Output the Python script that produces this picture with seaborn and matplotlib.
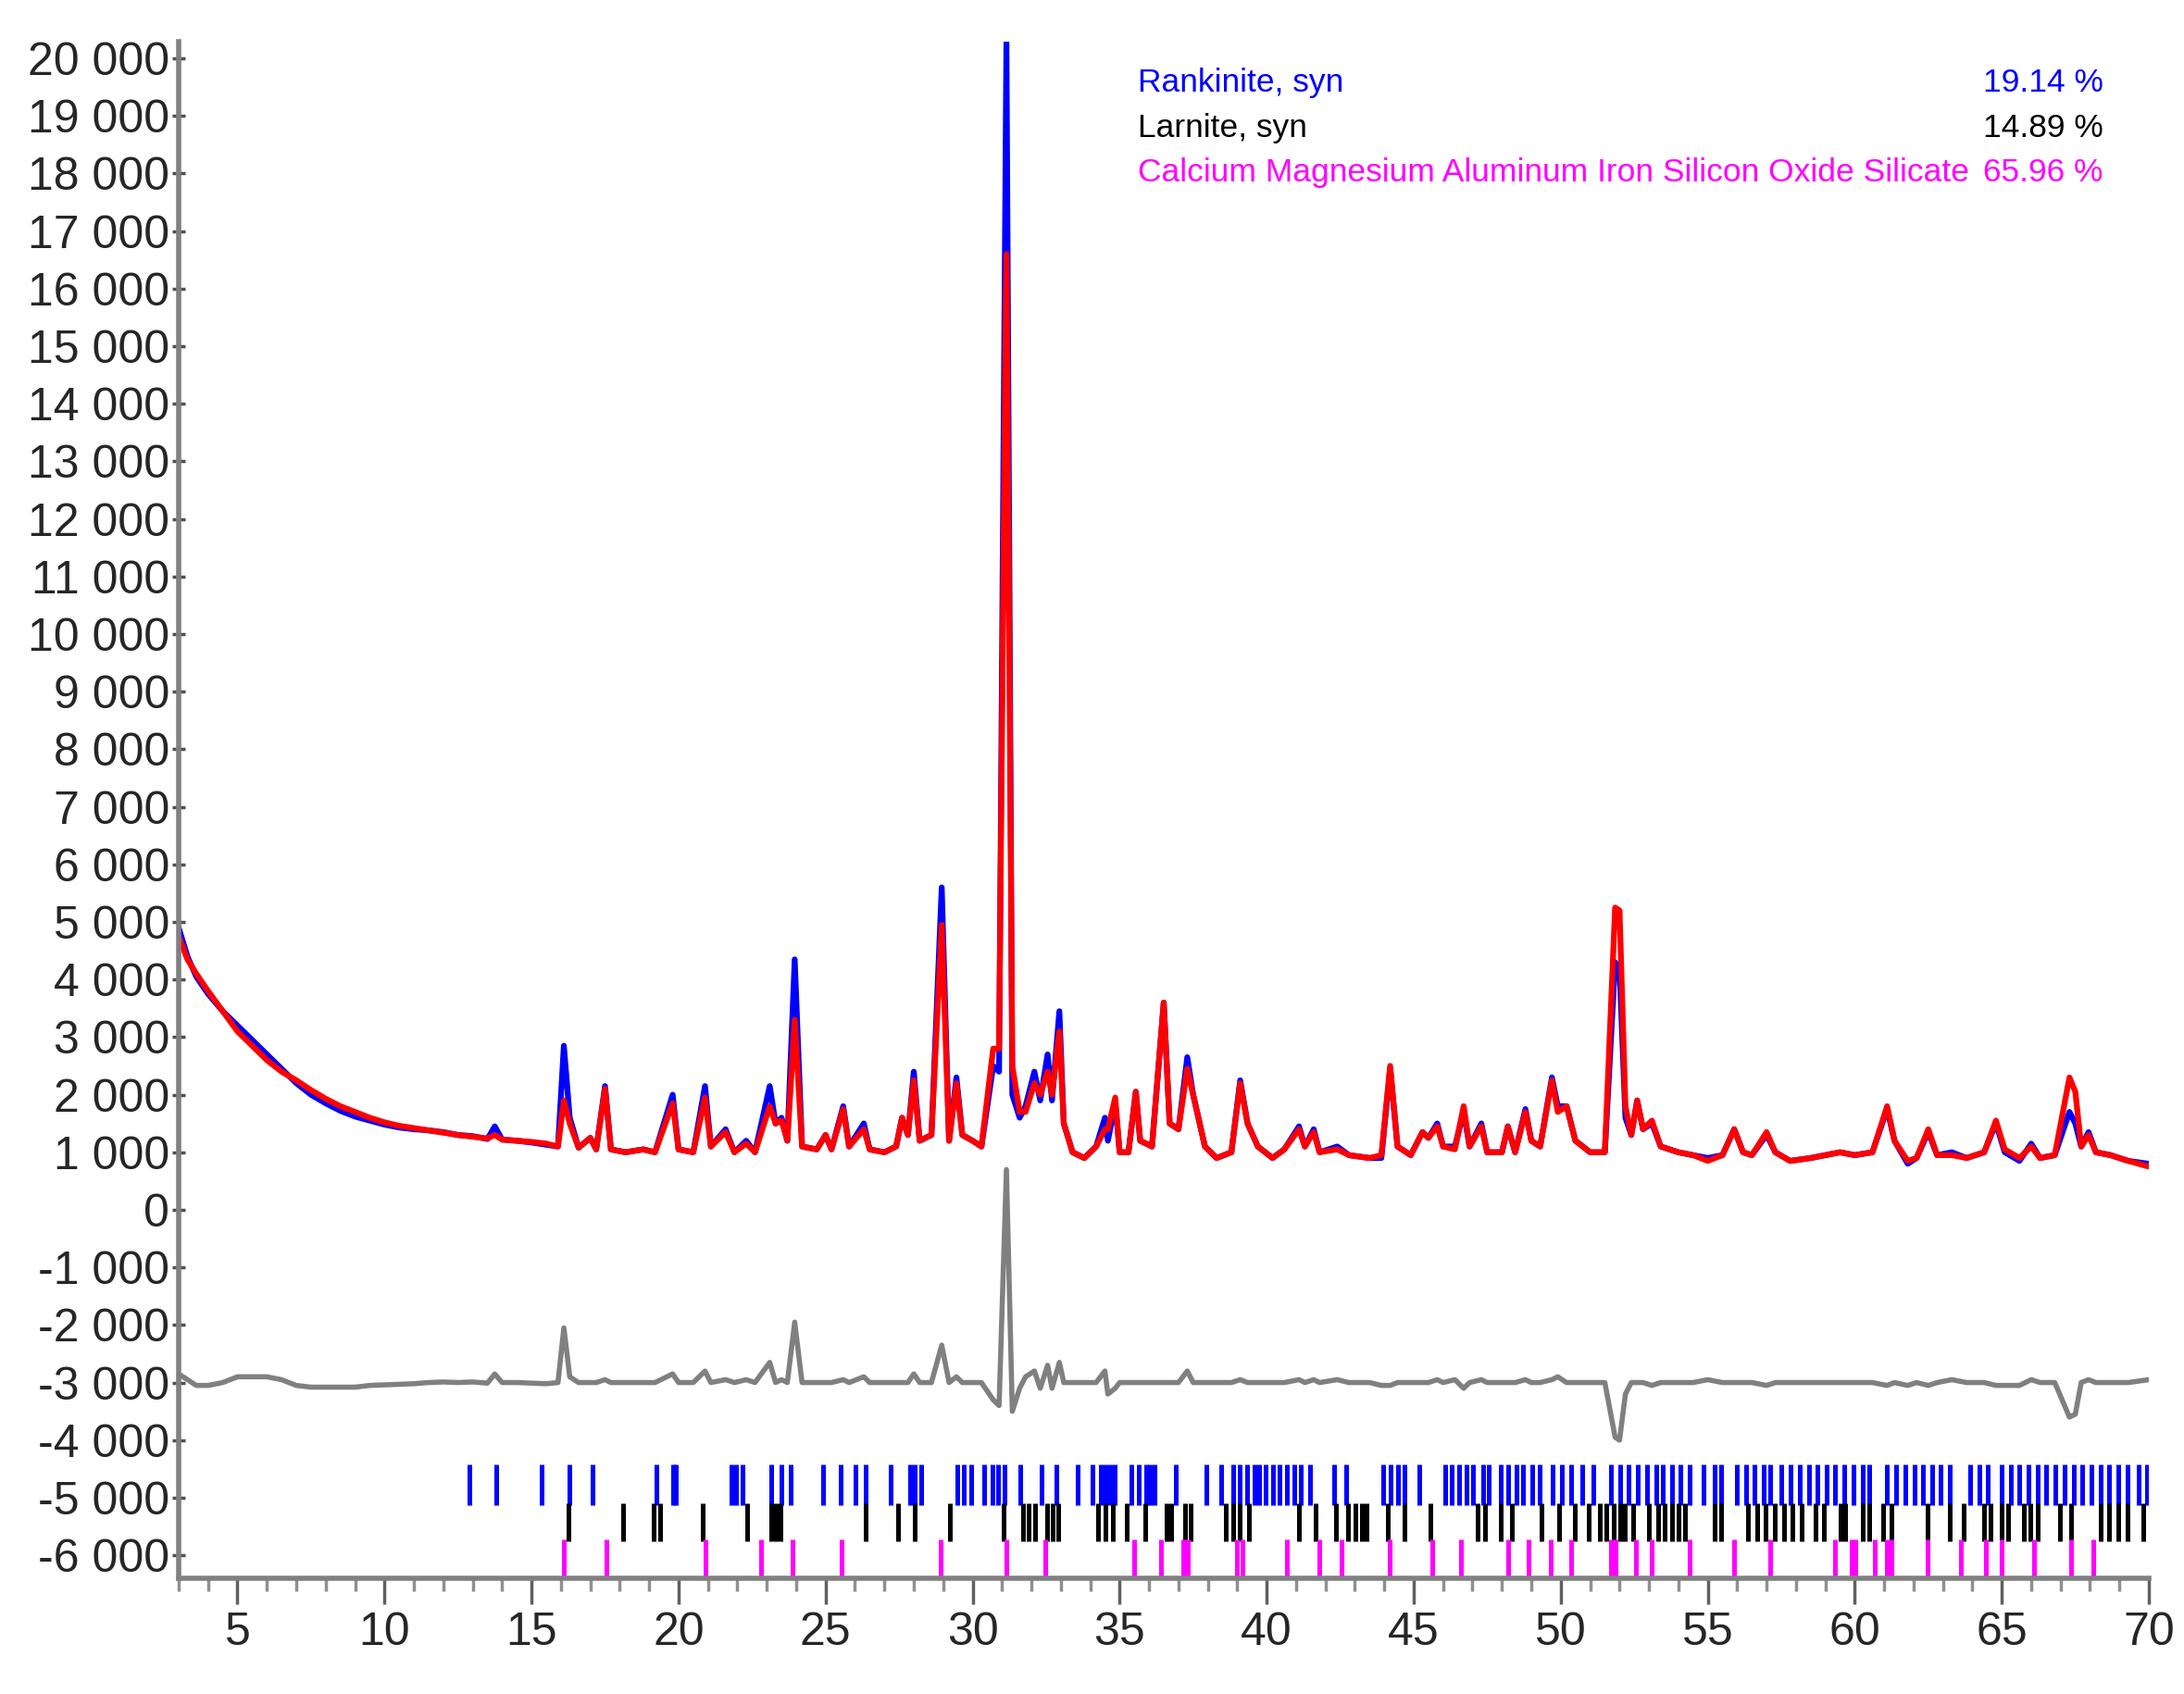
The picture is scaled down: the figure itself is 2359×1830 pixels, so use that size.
import numpy as np
import pandas as pd
import matplotlib
matplotlib.use('Agg')
import matplotlib.pyplot as plt
from matplotlib.ticker import MultipleLocator, FuncFormatter
import seaborn as sns

two_theta = [3.0, 3.3, 3.6, 4.0, 4.5, 5.0, 5.5, 6.0, 6.5, 7.0, 7.5, 8.0, 8.5, 9.0, 9.5,
             10.0, 10.5, 11.0, 11.5, 12.0, 12.5, 13.0, 13.5, 13.75, 14.0, 14.5, 15.0,
             15.5, 15.9, 16.1, 16.3, 16.6, 17.0, 17.2, 17.5, 17.7, 18.2, 18.8, 19.2,
             19.8, 20.0, 20.5, 20.9, 21.1, 21.6, 21.9, 22.3, 22.6, 23.1, 23.3, 23.5,
             23.7, 23.95, 24.2, 24.7, 25.0, 25.2, 25.6, 25.8, 26.3, 26.5, 27.0, 27.4,
             27.6, 27.8, 28.0, 28.2, 28.6, 28.95, 29.2, 29.45, 29.65, 30.0, 30.3, 30.7,
             30.9, 31.15, 31.35, 31.6, 31.8, 32.1, 32.3, 32.55, 32.7, 32.95, 33.1, 33.4,
             33.8, 34.2, 34.5, 34.6, 34.85, 35.0, 35.3, 35.55, 35.7, 36.1, 36.5, 36.7,
             37.0, 37.3, 37.5, 37.9, 38.3, 38.8, 39.1, 39.35, 39.7, 40.2, 40.6, 41.1,
             41.3, 41.6, 41.8, 42.4, 42.8, 43.5, 43.9, 44.2, 44.45, 44.9, 45.3, 45.5,
             45.8, 46.0, 46.4, 46.7, 46.9, 47.3, 47.5, 48.0, 48.2, 48.45, 48.8, 49.0,
             49.3, 49.7, 49.9, 50.2, 50.5, 51.0, 51.5, 51.85, 52.0, 52.2, 52.4, 52.6,
             52.8, 53.1, 53.4, 54.0, 54.5, 55.0, 55.5, 55.9, 56.2, 56.5, 57.0, 57.3,
             57.8, 58.5, 59.0, 59.5, 60.0, 60.6, 61.1, 61.35, 61.8, 62.1, 62.5, 62.8,
             63.3, 63.8, 64.4, 64.8, 65.1, 65.6, 66.0, 66.3, 66.8, 67.3, 67.5, 67.7,
             67.95, 68.2, 68.7, 69.3, 70.0]

observed = [4900, 4400, 4050, 3750, 3450, 3200, 2950, 2700, 2450, 2200, 2000, 1850, 1720,
            1620, 1550, 1480, 1430, 1400, 1380, 1350, 1300, 1280, 1230, 1450, 1220, 1200,
            1170, 1130, 1100, 2850, 1600, 1080, 1250, 1050, 2150, 1050, 1000, 1050, 1000,
            2000, 1050, 1000, 2150, 1100, 1400, 1000, 1200, 1000, 2150, 1500, 1600, 1200,
            4350, 1100, 1050, 1300, 1050, 1800, 1100, 1500, 1050, 1000, 1100, 1600, 1300,
            2400, 1200, 1300, 5600, 1200, 2300, 1300, 1200, 1100, 2500, 2400, 20300, 2000,
            1600, 1800, 2400, 1900, 2700, 1900, 3450, 1500, 1000, 900, 1100, 1600, 1200,
            1850, 1000, 1000, 2050, 1200, 1100, 3600, 1500, 1400, 2650, 2000, 1100, 900,
            1000, 2250, 1500, 1100, 900, 1050, 1450, 1100, 1400, 1000, 1100, 950, 900, 900,
            2450, 1100, 950, 1350, 1250, 1500, 1100, 1100, 1700, 1100, 1500, 1000, 1000,
            1450, 1000, 1750, 1200, 1100, 2300, 1800, 1800, 1200, 1000, 1000, 4300, 4200,
            1600, 1300, 1900, 1400, 1500, 1100, 1000, 950, 900, 950, 1400, 1000, 950, 1300,
            1000, 850, 900, 950, 1000, 950, 1000, 1750, 1200, 800, 900, 1350, 950, 1000,
            900, 1000, 1500, 1000, 850, 1150, 900, 950, 1700, 1500, 1100, 1350, 1000, 950,
            850, 800]

calculated = [4750, 4350, 4100, 3800, 3450, 3100, 2850, 2600, 2400, 2250, 2080, 1930, 1800,
              1700, 1600, 1520, 1460, 1420, 1380, 1340, 1300, 1270, 1240, 1300, 1220, 1200,
              1180, 1150, 1100, 1900, 1500, 1080, 1250, 1050, 2100, 1050, 1000, 1050, 1000,
              1850, 1050, 1000, 1950, 1100, 1350, 1000, 1150, 1000, 1800, 1500, 1550, 1200,
              3300, 1100, 1050, 1300, 1050, 1750, 1100, 1400, 1050, 1000, 1100, 1600, 1300,
              2250, 1200, 1300, 4950, 1200, 2200, 1300, 1200, 1100, 2800, 2800, 16600, 2500,
              1700, 1700, 2200, 2000, 2400, 2000, 3100, 1500, 1000, 900, 1100, 1400, 1400,
              1950, 1000, 1000, 2050, 1200, 1100, 3600, 1500, 1400, 2450, 2000, 1100, 900,
              1000, 2200, 1500, 1100, 900, 1050, 1400, 1100, 1350, 1000, 1050, 950, 900, 950,
              2500, 1100, 950, 1350, 1250, 1450, 1100, 1050, 1800, 1100, 1450, 1000, 1000,
              1450, 1000, 1700, 1200, 1100, 2250, 1700, 1800, 1200, 1000, 1000, 5250, 5200,
              1800, 1300, 1900, 1400, 1550, 1100, 1000, 950, 850, 950, 1400, 1000, 950, 1350,
              1000, 850, 900, 950, 1000, 950, 1000, 1800, 1200, 850, 900, 1400, 950, 950,
              900, 1000, 1550, 1050, 900, 1100, 900, 950, 2300, 2050, 1100, 1300, 1000, 950,
              850, 750]

diff_offset = -3000

# reflection positions of the three phases
rankinite_pos = [12.88, 13.80, 15.34, 16.30, 17.07, 19.25, 19.80, 19.90, 21.80, 21.95, 22.18,
                 23.14, 23.49, 23.81, 24.90, 25.51, 26.03, 26.35, 27.20, 27.87, 28.03, 28.24,
                 29.47, 29.71, 29.95, 30.40, 30.67, 30.88, 31.07, 31.63, 32.36, 32.84, 33.56,
                 34.09, 34.36, 34.52, 34.68, 34.84, 35.40, 35.64, 35.91, 36.04, 36.17, 36.92,
                 37.96, 38.45, 38.85, 39.09, 39.33, 39.57, 39.73, 39.97, 40.21, 40.45, 40.69,
                 40.93, 41.17, 41.49, 42.29, 42.69, 43.97, 44.21, 44.46, 44.70, 45.18, 46.06,
                 46.30, 46.54, 46.78, 47.02, 47.35, 47.55, 47.97, 48.20, 48.50, 48.73, 49.04,
                 49.27, 49.73, 50.03, 50.34, 50.72, 51.10, 51.71, 52.02, 52.32, 52.63, 52.93,
                 53.24, 53.47, 53.77, 54.08, 54.38, 54.84, 55.22, 55.45, 55.98, 56.29, 56.60,
                 56.90, 57.13, 57.51, 57.82, 58.12, 58.43, 58.73, 59.04, 59.34, 59.65, 59.95,
                 60.26, 60.49, 61.10, 61.40, 61.71, 62.02, 62.32, 62.63, 62.93, 63.24, 63.92,
                 64.23, 64.53, 64.99, 65.30, 65.60, 65.91, 66.21, 66.52, 66.82, 67.13, 67.44,
                 67.74, 68.05, 68.35, 68.66, 68.96, 69.27, 69.65, 69.95]

larnite_pos = [16.25, 18.10, 19.14, 19.38, 20.82, 22.34, 23.14, 23.30, 23.46, 26.35, 27.47,
               28.03, 29.23, 31.04, 31.71, 31.91, 32.12, 32.52, 32.71, 32.92, 34.28, 34.52,
               34.76, 35.24, 35.88, 36.60, 36.76, 37.24, 37.40, 38.61, 38.85, 39.09, 39.41,
               41.09, 41.65, 42.37, 42.77, 43.01, 43.25, 43.41, 44.13, 44.69, 45.58, 47.18,
               47.44, 47.97, 48.35, 49.34, 49.95, 50.49, 50.95, 51.33, 51.56, 51.79, 52.02,
               52.17, 52.47, 53.01, 53.31, 53.54, 53.77, 54.00, 54.23, 55.22, 55.45, 56.37,
               56.67, 56.98, 57.28, 57.59, 57.89, 58.20, 58.66, 58.96, 59.50, 59.68, 60.26,
               60.49, 60.95, 61.25, 62.47, 63.24, 63.69, 64.38, 64.61, 64.99, 65.22, 65.76,
               65.98, 66.21, 66.98, 67.36, 68.35, 68.66, 68.96, 69.27, 69.80]

cmas_pos = [16.09, 17.56, 20.90, 22.82, 23.86, 25.54, 28.91, 31.15, 32.48, 35.48, 36.40,
            37.16, 37.32, 39.00, 39.17, 40.69, 41.78, 42.53, 44.18, 45.62, 46.62, 48.20,
            48.89, 49.65, 50.34, 51.71, 51.86, 52.55, 53.08, 54.38, 55.91, 57.13, 59.34,
            59.88, 60.03, 60.69, 61.10, 61.25, 62.47, 63.62, 64.46, 64.99, 66.09, 67.36,
            68.12]

phase_names = ['Rankinite, syn', 'Larnite, syn',
               'Calcium Magnesium Aluminum Iron Silicon Oxide Silicate']
phase_pct = ['19.14 %', '14.89 %', '65.96 %']
phase_colors = ['#0000ff', '#000000', '#ff00ff']
phase_rows = [(-4420, -5130), (-5100, -5760), (-5720, -6400)]

df = pd.DataFrame({'two_theta': two_theta, 'obs': observed, 'calc': calculated})
df['diff'] = df['obs'] - df['calc'] + diff_offset

sns.set_style('ticks')
plt.rcParams['font.family'] = ['Liberation Sans', 'DejaVu Sans']

fig = plt.figure(figsize=(23.59, 18.30), dpi=100)
ax = fig.add_axes([0.0818, 0.0683, 0.9021, 0.9071])

sns.lineplot(data=df, x='two_theta', y='obs', color='#0000ff', lw=4.5, ax=ax,
             estimator=None, sort=False)
sns.lineplot(data=df, x='two_theta', y='calc', color='#ff0000', lw=4.5, ax=ax,
             estimator=None, sort=False)
sns.lineplot(data=df, x='two_theta', y='diff', color='#808080', lw=4, ax=ax,
             estimator=None, sort=False)

# reflection markers, one row per phase
for pos, col, (y0, y1) in zip([rankinite_pos, larnite_pos, cmas_pos], phase_colors, phase_rows):
    ax.vlines(pos, y0, y1, colors=col, lw=3.6)

ax.set_xlim(3, 70)
ax.set_ylim(-6400, 20290)
ax.xaxis.set_major_locator(MultipleLocator(5))
ax.xaxis.set_minor_locator(MultipleLocator(1))
ax.yaxis.set_major_locator(MultipleLocator(1000))
ax.yaxis.set_major_formatter(FuncFormatter(lambda v, p: f'{int(round(v)):,}'.replace(',', ' ')))
ax.set_xlabel('')
ax.set_ylabel('')

sns.despine(ax=ax)
for side in ['left', 'bottom']:
    ax.spines[side].set_color('#808080')
    ax.spines[side].set_linewidth(4)
ax.tick_params(axis='x', which='major', length=20, width=2.5, color='#606060',
               labelsize=36, pad=6)
ax.tick_params(axis='x', which='minor', length=10, width=2.5, color='#909090')
ax.tick_params(axis='y', which='major', direction='inout', length=10, width=2.5,
               color='#505050', labelsize=36, pad=2)

# phase legend (top right)
for i, (name, pct, col) in enumerate(zip(phase_names, phase_pct, phase_colors)):
    ty = 0.951 - i * 0.0265
    fig.text(0.521, ty, name, color=col, fontsize=25.5, ha='left', va='center')
    fig.text(0.963, ty, pct, color=col, fontsize=25.5, ha='right', va='center')

fig.savefig('out.png', dpi=100, facecolor='white')
